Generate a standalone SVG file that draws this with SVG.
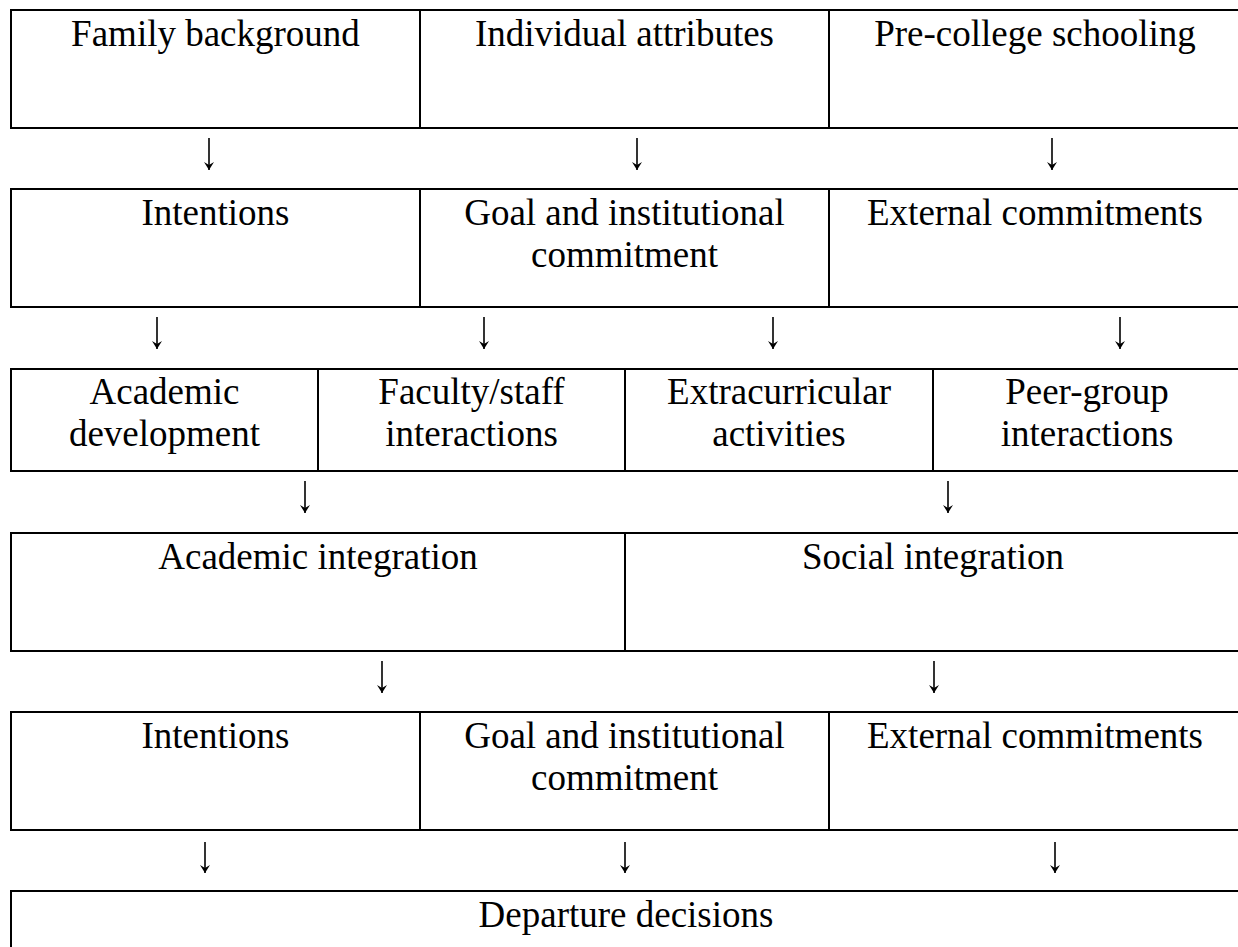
<svg xmlns="http://www.w3.org/2000/svg" width="1238" height="947" viewBox="0 0 1238 947">
  <style>
    .box { fill: #ffffff; stroke: #000000; stroke-width: 2; }
    .lbl { font-family: "Liberation Serif", "Times New Roman", serif; font-size: 37px; fill: #000000; text-anchor: middle; }
    .flow { stroke: #000000; stroke-width: 1.6; fill: none; marker-end: url(#head); }
  </style>
  <defs>
    <!-- arrowhead drawn along +x; orient="auto" turns it to follow the line -->
    <marker id="head" markerUnits="userSpaceOnUse" markerWidth="10" markerHeight="12" refX="9" refY="6" orient="auto" viewBox="0 0 10 12">
      <path d="M1,1 L9,6 L1,11 L4,6 Z" fill="#000000"/>
    </marker>
  </defs>
  <rect width="1238" height="947" fill="#ffffff"/>

  <!-- Row 1 -->
  <g id="family-background"><rect class="box" x="11" y="10" width="409" height="118"/><text class="lbl" x="215.5" y="46">Family background</text></g>
  <g id="individual-attributes"><rect class="box" x="420" y="10" width="409" height="118"/><text class="lbl" x="624.5" y="46">Individual attributes</text></g>
  <g id="pre-college-schooling"><rect class="box" x="829" y="10" width="412" height="118"/><text class="lbl" x="1035" y="46">Pre-college schooling</text></g>

  <!-- Row 2 -->
  <g id="intentions-1"><rect class="box" x="11" y="189" width="409" height="118"/><text class="lbl" x="215.5" y="225">Intentions</text></g>
  <g id="goal-commitment-1"><rect class="box" x="420" y="189" width="409" height="118"/><text class="lbl" x="624.5" y="225">Goal and institutional</text><text class="lbl" x="624.5" y="267">commitment</text></g>
  <g id="external-commitments-1"><rect class="box" x="829" y="189" width="412" height="118"/><text class="lbl" x="1035" y="225">External commitments</text></g>

  <!-- Row 3 -->
  <g id="academic-development"><rect class="box" x="11" y="369" width="307" height="102"/><text class="lbl" x="164.5" y="404">Academic</text><text class="lbl" x="164.5" y="446">development</text></g>
  <g id="faculty-staff-interactions"><rect class="box" x="318" y="369" width="307" height="102"/><text class="lbl" x="471.5" y="404">Faculty/staff</text><text class="lbl" x="471.5" y="446">interactions</text></g>
  <g id="extracurricular-activities"><rect class="box" x="625" y="369" width="308" height="102"/><text class="lbl" x="779" y="404">Extracurricular</text><text class="lbl" x="779" y="446">activities</text></g>
  <g id="peer-group-interactions"><rect class="box" x="933" y="369" width="308" height="102"/><text class="lbl" x="1087" y="404">Peer-group</text><text class="lbl" x="1087" y="446">interactions</text></g>

  <!-- Row 4 -->
  <g id="academic-integration"><rect class="box" x="11" y="533" width="614" height="118"/><text class="lbl" x="318" y="569">Academic integration</text></g>
  <g id="social-integration"><rect class="box" x="625" y="533" width="616" height="118"/><text class="lbl" x="933" y="569">Social integration</text></g>

  <!-- Row 5 -->
  <g id="intentions-2"><rect class="box" x="11" y="712" width="409" height="118"/><text class="lbl" x="215.5" y="748">Intentions</text></g>
  <g id="goal-commitment-2"><rect class="box" x="420" y="712" width="409" height="118"/><text class="lbl" x="624.5" y="748">Goal and institutional</text><text class="lbl" x="624.5" y="790">commitment</text></g>
  <g id="external-commitments-2"><rect class="box" x="829" y="712" width="412" height="118"/><text class="lbl" x="1035" y="748">External commitments</text></g>

  <!-- Row 6 -->
  <g id="departure-decisions"><rect class="box" x="11" y="891" width="1230" height="80"/><text class="lbl" x="626" y="927">Departure decisions</text></g>

  <!-- Downward arrows between rows -->
  <g id="connectors">
    <line class="flow" x1="209" y1="138" x2="209" y2="170"/>
    <line class="flow" x1="637" y1="138" x2="637" y2="170"/>
    <line class="flow" x1="1052" y1="138" x2="1052" y2="170"/>

    <line class="flow" x1="157" y1="317" x2="157" y2="349"/>
    <line class="flow" x1="484" y1="317" x2="484" y2="349"/>
    <line class="flow" x1="773" y1="317" x2="773" y2="349"/>
    <line class="flow" x1="1120" y1="317" x2="1120" y2="349"/>

    <line class="flow" x1="305" y1="481" x2="305" y2="513"/>
    <line class="flow" x1="948" y1="481" x2="948" y2="513"/>

    <line class="flow" x1="382" y1="661" x2="382" y2="693"/>
    <line class="flow" x1="934" y1="661" x2="934" y2="693"/>

    <line class="flow" x1="205" y1="842" x2="205" y2="873"/>
    <line class="flow" x1="625" y1="842" x2="625" y2="873"/>
    <line class="flow" x1="1055" y1="842" x2="1055" y2="873"/>
  </g>
</svg>
